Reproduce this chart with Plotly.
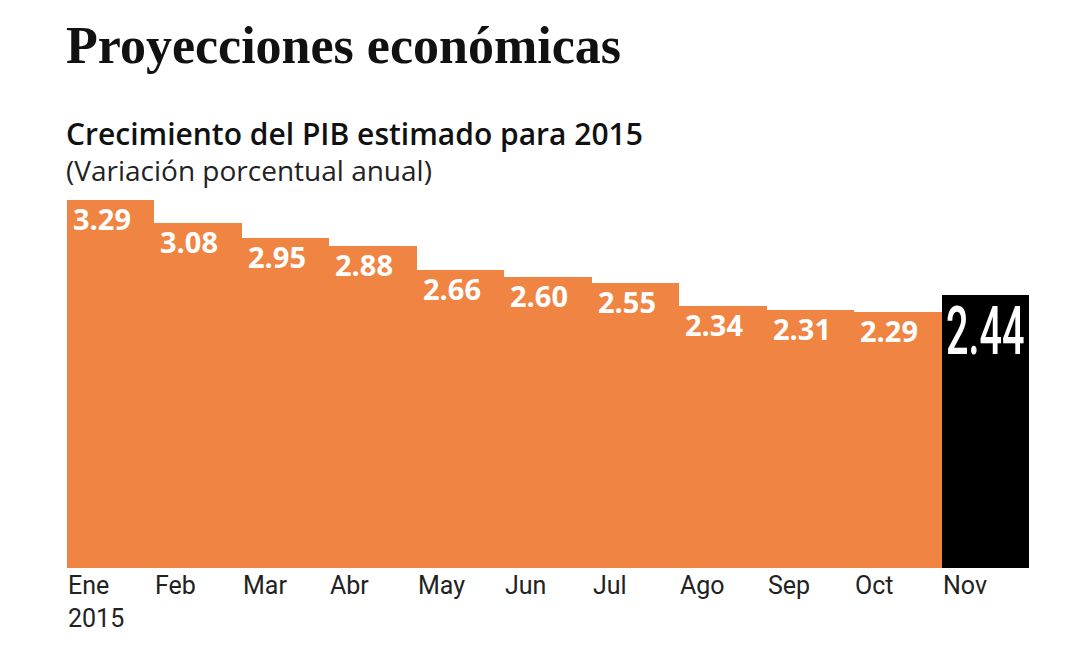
import plotly.graph_objects as go

months = ["Ene", "Feb", "Mar", "Abr", "May", "Jun", "Jul", "Ago", "Sep", "Oct", "Nov"]
tick_labels = ["Ene<br>2015", "Feb", "Mar", "Abr", "May", "Jun", "Jul", "Ago", "Sep", "Oct", "Nov"]
values = [3.29, 3.08, 2.95, 2.88, 2.66, 2.60, 2.55, 2.34, 2.31, 2.29, 2.44]
value_labels = ["3.29", "3.08", "2.95", "2.88", "2.66", "2.60", "2.55", "2.34", "2.31", "2.29", "2.44"]

ORANGE = "#EF8443"
BLACK = "#000000"
colors = [ORANGE] * (len(values) - 1) + [BLACK]

xs = list(range(len(values)))

fig = go.Figure(go.Bar(
    x=xs, y=values, width=1.0,
    marker=dict(color=colors, line=dict(width=0)),
    hoverinfo="skip",
))

annotations = []
for i, (v, lab) in enumerate(zip(values, value_labels)):
    last = i == len(values) - 1
    if last:
        annotations.append(dict(
            x=i - 0.5, y=v, xref="x", yref="y", text=lab, showarrow=False,
            xanchor="left", yanchor="top", xshift=2, yshift=4,
            font=dict(family="Roboto, sans-serif", size=66, color="white", weight=500),
        ))
    else:
        annotations.append(dict(
            x=i - 0.5, y=v, xref="x", yref="y", text="<b>" + lab + "</b>", showarrow=False,
            xanchor="left", yanchor="top", xshift=4, yshift=3,
            font=dict(family="Open Sans, sans-serif", size=29, color="white"),
        ))
for i, t in enumerate(tick_labels):
    annotations.append(dict(
        x=i - 0.5, y=0, xref="x", yref="y", text=t, showarrow=False,
        xanchor="left", yanchor="top", xshift=-1, yshift=-1, align="left",
        font=dict(family="Roboto, sans-serif", size=25, color="#222222"),
    ))

annotations += [
    dict(x=0, y=1, xref="paper", yref="paper", xanchor="left", yanchor="bottom",
         xshift=-3, yshift=124, showarrow=False,
         text="<b>Proyecciones económicas</b>",
         font=dict(family="Liberation Serif, serif", size=52, color="#111111")),
    dict(x=0, y=1, xref="paper", yref="paper", xanchor="left", yanchor="bottom",
         xshift=-3, yshift=44, showarrow=False,
         text="Crecimiento del PIB estimado para 2015",
         font=dict(family="Open Sans, sans-serif", size=30, color="#111111", weight=600)),
    dict(x=0, y=1, xref="paper", yref="paper", xanchor="left", yanchor="bottom",
         xshift=-3, yshift=9, showarrow=False,
         text="(Variación porcentual anual)",
         font=dict(family="Open Sans, sans-serif", size=28, color="#222222")),
]

fig.update_layout(
    width=1081, height=666,
    margin=dict(l=59, r=60, t=192, b=106),
    paper_bgcolor="white", plot_bgcolor="white",
    bargap=0, showlegend=False,
    xaxis=dict(range=[-0.5, len(values) - 0.5], visible=False, fixedrange=True),
    yaxis=dict(range=[0, 3.29], visible=False, fixedrange=True),
    annotations=annotations,
)

# Condense only the highlighted (last) value horizontally, like the original's narrow display face
post_js = """
(function(){
  var gd = document.getElementById('{plot_id}');
  function squeeze(){
    var texts = gd.querySelectorAll('g.annotation text.annotation-text');
    texts.forEach(function(t){
      var fs = parseFloat(t.style.fontSize || '0');
      if (fs > 60 && !t.getAttribute('data-sq')) {
        var bb = t.getBBox();
        var x0 = bb.x;
        t.setAttribute('transform', 'translate(' + x0 + ',0) scale(0.6,1) translate(' + (-x0) + ',0)');
        t.setAttribute('data-sq', '1');
      }
    });
  }
  squeeze();
  gd.on && gd.on('plotly_afterplot', function(){ setTimeout(squeeze, 0); });
})();
"""

fig.write_html("out.html", post_script=post_js)
